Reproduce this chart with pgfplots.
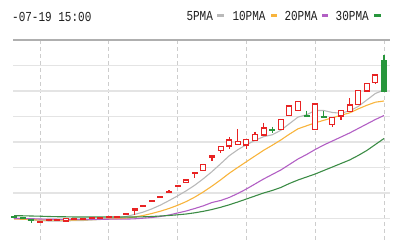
\documentclass[border=0pt]{standalone}
\usepackage{pgfplots}
\pgfplotsset{compat=1.18}
\usepackage{pgfplotstable}
\usepackage{fontspec}
\usepackage{graphicx}
\newfontfamily\monofont{Liberation Mono}
\definecolor{cred}{RGB}{232,35,35}
\definecolor{cgreen}{RGB}{40,150,60}
\definecolor{cma5}{RGB}{185,185,185}
\definecolor{cma10}{RGB}{248,180,60}
\definecolor{cma20}{RGB}{178,95,196}
\definecolor{cma30}{RGB}{60,140,70}
\definecolor{cgrid}{RGB}{228,228,228}
\definecolor{cvgrid}{RGB}{205,205,205}
\definecolor{ctop}{RGB}{175,175,175}
\definecolor{ctext}{RGB}{30,30,30}

% up candles (red): index, open, high, low, close
\pgfplotstableread{
i o h l c
3 17.5 19 16.5 18.5
4 19.5 20.5 19 20
5 19.7 20.5 19.5 20.3
6 19 21.3 19 21.3
7 20.7 21.2 20.5 21
8 21 21.7 20.8 21.5
9 21.5 22.2 21.3 22
10 22 22.7 21.8 22.5
11 22.5 23.2 22.3 23
12 23 23.7 22.8 23.5
13 25.5 26.5 25.5 26.5
14 29.5 31 25 31
15 33.5 34.5 33.5 34.5
16 38.5 39.5 38.5 39.5
17 42.2 43.2 42.2 43.2
18 47.8 49.5 47 48.8
19 53.5 54.5 53.5 54.5
20 57.3 60 57.3 60
21 66.2 67.5 62 67.5
22 69.5 76 69 75.7
23 83 84.3 79 84.3
24 89.2 94 87 93.3
25 94 103 91 100
26 95.7 110.5 95.7 98.3
27 95 101 91 100.7
28 99.3 108.3 99.3 105.5
29 105 117 105 112
31 110.7 121 110.5 120.7
32 124.3 134.5 124 134
33 129.5 138.5 129.5 138.3
35 110.7 136 110.7 136
37 115.3 122.5 113 122.5
38 124 129.5 120 129.5
39 128.3 141.7 128.3 135
40 135.5 149.5 135.5 149.3
41 149 157 148.5 156.7
42 157.3 165 155.7 165
}\redtab

% down candles (green)
\pgfplotstableread{
i o h l c
0 23.5 23.5 23 23
1 22.5 23 21 21.5
2 20 20 17.5 19.8
30 110.5 113.3 106.7 109.5
34 124.5 129.3 123.5 123.5
36 123.3 129.3 122.3 122.3
43 179.5 184.5 148.5 148.5
}\greentab

% moving averages
\pgfplotstableread{
i m5 m10 m20 m30
0 22 21 21.5 24.2
1 21 20.7 21.5 24.2
2 20 20.4 21.3 24
3 19.5 20.1 21 23.8
4 19 20 20.8 23.5
5 19 20 20.7 23.3
6 19 20 20.6 23.2
7 19.5 20 20.6 23
8 19.5 20.2 20.6 23
9 20 20.4 20.6 23
10 20.5 20.7 20.7 23
11 21.5 21 20.8 23
12 22 21.3 20.8 23
13 23.5 21.8 20.9 23
14 25.6 23 21.2 23
15 27.9 24.5 21.8 23.2
16 31.1 26.5 22.5 23.5
17 34.9 28.8 23.5 24
18 39.4 31.5 25 24.5
19 44.1 34.7 27 25.2
20 49.2 38.4 29 26
21 54.8 42.9 31.5 27.2
22 61.3 48.1 34.2 28.7
23 68.4 53.9 37.5 30.5
24 76.2 60.1 39.5 32.7
25 84.2 66.7 42.5 35.2
26 90.3 72.6 46.5 38
27 95.3 78.3 51 41
28 99.6 84 56 44
29 103.3 89.7 61 47
30 105.2 94.7 65.5 49.5
31 109.7 100 70 52.5
32 116.3 105.8 75.5 56.5
33 122.9 111.2 81 60
34 125.2 114.2 85.5 63
35 129.5 117.2 90.5 66
36 129.5 119.7 95 69.5
37 127.5 122.2 99 73
38 126.8 124.8 103 76.5
39 129.1 127.1 107 80
40 133.5 131.1 111.5 84.5
41 140 134.7 116 89.5
42 146.5 137.8 120.5 95.5
43 150 139 124.5 101.5
}\matab

% candlestick mark: wick from high to low, then body between open and close
\pgfdeclareplotmark{candle}{%
  \pgfpathmoveto{\pgfpoint{0pt}{1bp*\wtop}}%
  \pgfpathlineto{\pgfpoint{0pt}{1bp*\wbot}}%
  \pgfusepathqstroke
  \pgfpathrectangle{\pgfpoint{-2.5bp}{-0.5bp*\bodyh}}{\pgfpoint{5bp}{1bp*\bodyh}}%
  \pgfusepathqfillstroke}

\pgfplotsset{candlestyle/.style={only marks, mark=candle,
  visualization depends on={abs(\thisrow{c}-\thisrow{o}) \as \bodyh},
  visualization depends on={\thisrow{h}-0.5*(\thisrow{o}+\thisrow{c}) \as \wtop},
  visualization depends on={\thisrow{l}-0.5*(\thisrow{o}+\thisrow{c}) \as \wbot}}}

\begin{document}
\begin{tikzpicture}
\useasboundingbox (0,0) rectangle (394bp,240bp);
\begin{axis}[
  at={(13bp,0bp)}, anchor=south west,
  scale only axis, width=377bp, height=200bp,
  xmin=-0.14, xmax=43.7, ymin=0, ymax=200,
  axis line style={draw=none},
  major tick length=0,
  xtick={3,11,19,27,35,43},
  ytick={21.5,47,72.5,98,123.5,149,174.5},
  xticklabels={}, yticklabels={},
  extra y ticks={200}, extra y tick labels={},
  extra y tick style={grid style={draw=ctop, line width=1.6bp, solid}},
  xmajorgrids, ymajorgrids,
  grid style={draw=cgrid, line width=1.2bp},
  x grid style={draw=cvgrid, line width=0.9bp, dash pattern=on 4bp off 3bp},
]
\addplot[candlestyle, mark options={draw=cred, fill=white, line width=1.1bp, solid}]
  table[x=i, y expr=0.5*(\thisrow{o}+\thisrow{c})] {\redtab};
\addplot[candlestyle, mark options={draw=cgreen, fill=cgreen, line width=1.1bp, solid}]
  table[x=i, y expr=0.5*(\thisrow{o}+\thisrow{c})] {\greentab};
% moving averages
\addplot[cma5, line width=1.1bp, mark=none] table[x=i, y=m5] {\matab};
\addplot[cma10, line width=1.1bp, mark=none] table[x=i, y=m10] {\matab};
\addplot[cma20, line width=1.1bp, mark=none] table[x=i, y=m20] {\matab};
\addplot[cma30, line width=1.1bp, mark=none] table[x=i, y=m30] {\matab};
\end{axis}
\begin{scope}[every node/.style={anchor=base west, inner sep=0pt, text=ctext,
   font=\monofont\fontsize{11bp}{12bp}\selectfont}]
\node at (12bp,218.5bp) {\scalebox{1}[1.25]{-07-19 15:00}};
\node at (186.3bp,219.3bp) {\scalebox{1}[1.25]{5PMA}};
\node at (232.3bp,219.3bp) {\scalebox{1}[1.25]{10PMA}};
\node at (284.3bp,219.3bp) {\scalebox{1}[1.25]{20PMA}};
\node at (335.5bp,219.3bp) {\scalebox{1}[1.25]{30PMA}};
\end{scope}
\fill[cma5] (217bp,223.3bp) rectangle (223.5bp,226.3bp);
\fill[cma10] (270.5bp,223.3bp) rectangle (277bp,226.3bp);
\fill[cma20] (321.5bp,223.3bp) rectangle (328bp,226.3bp);
\fill[cgreen] (374bp,223.3bp) rectangle (380.5bp,226.3bp);
\end{tikzpicture}
\end{document}
